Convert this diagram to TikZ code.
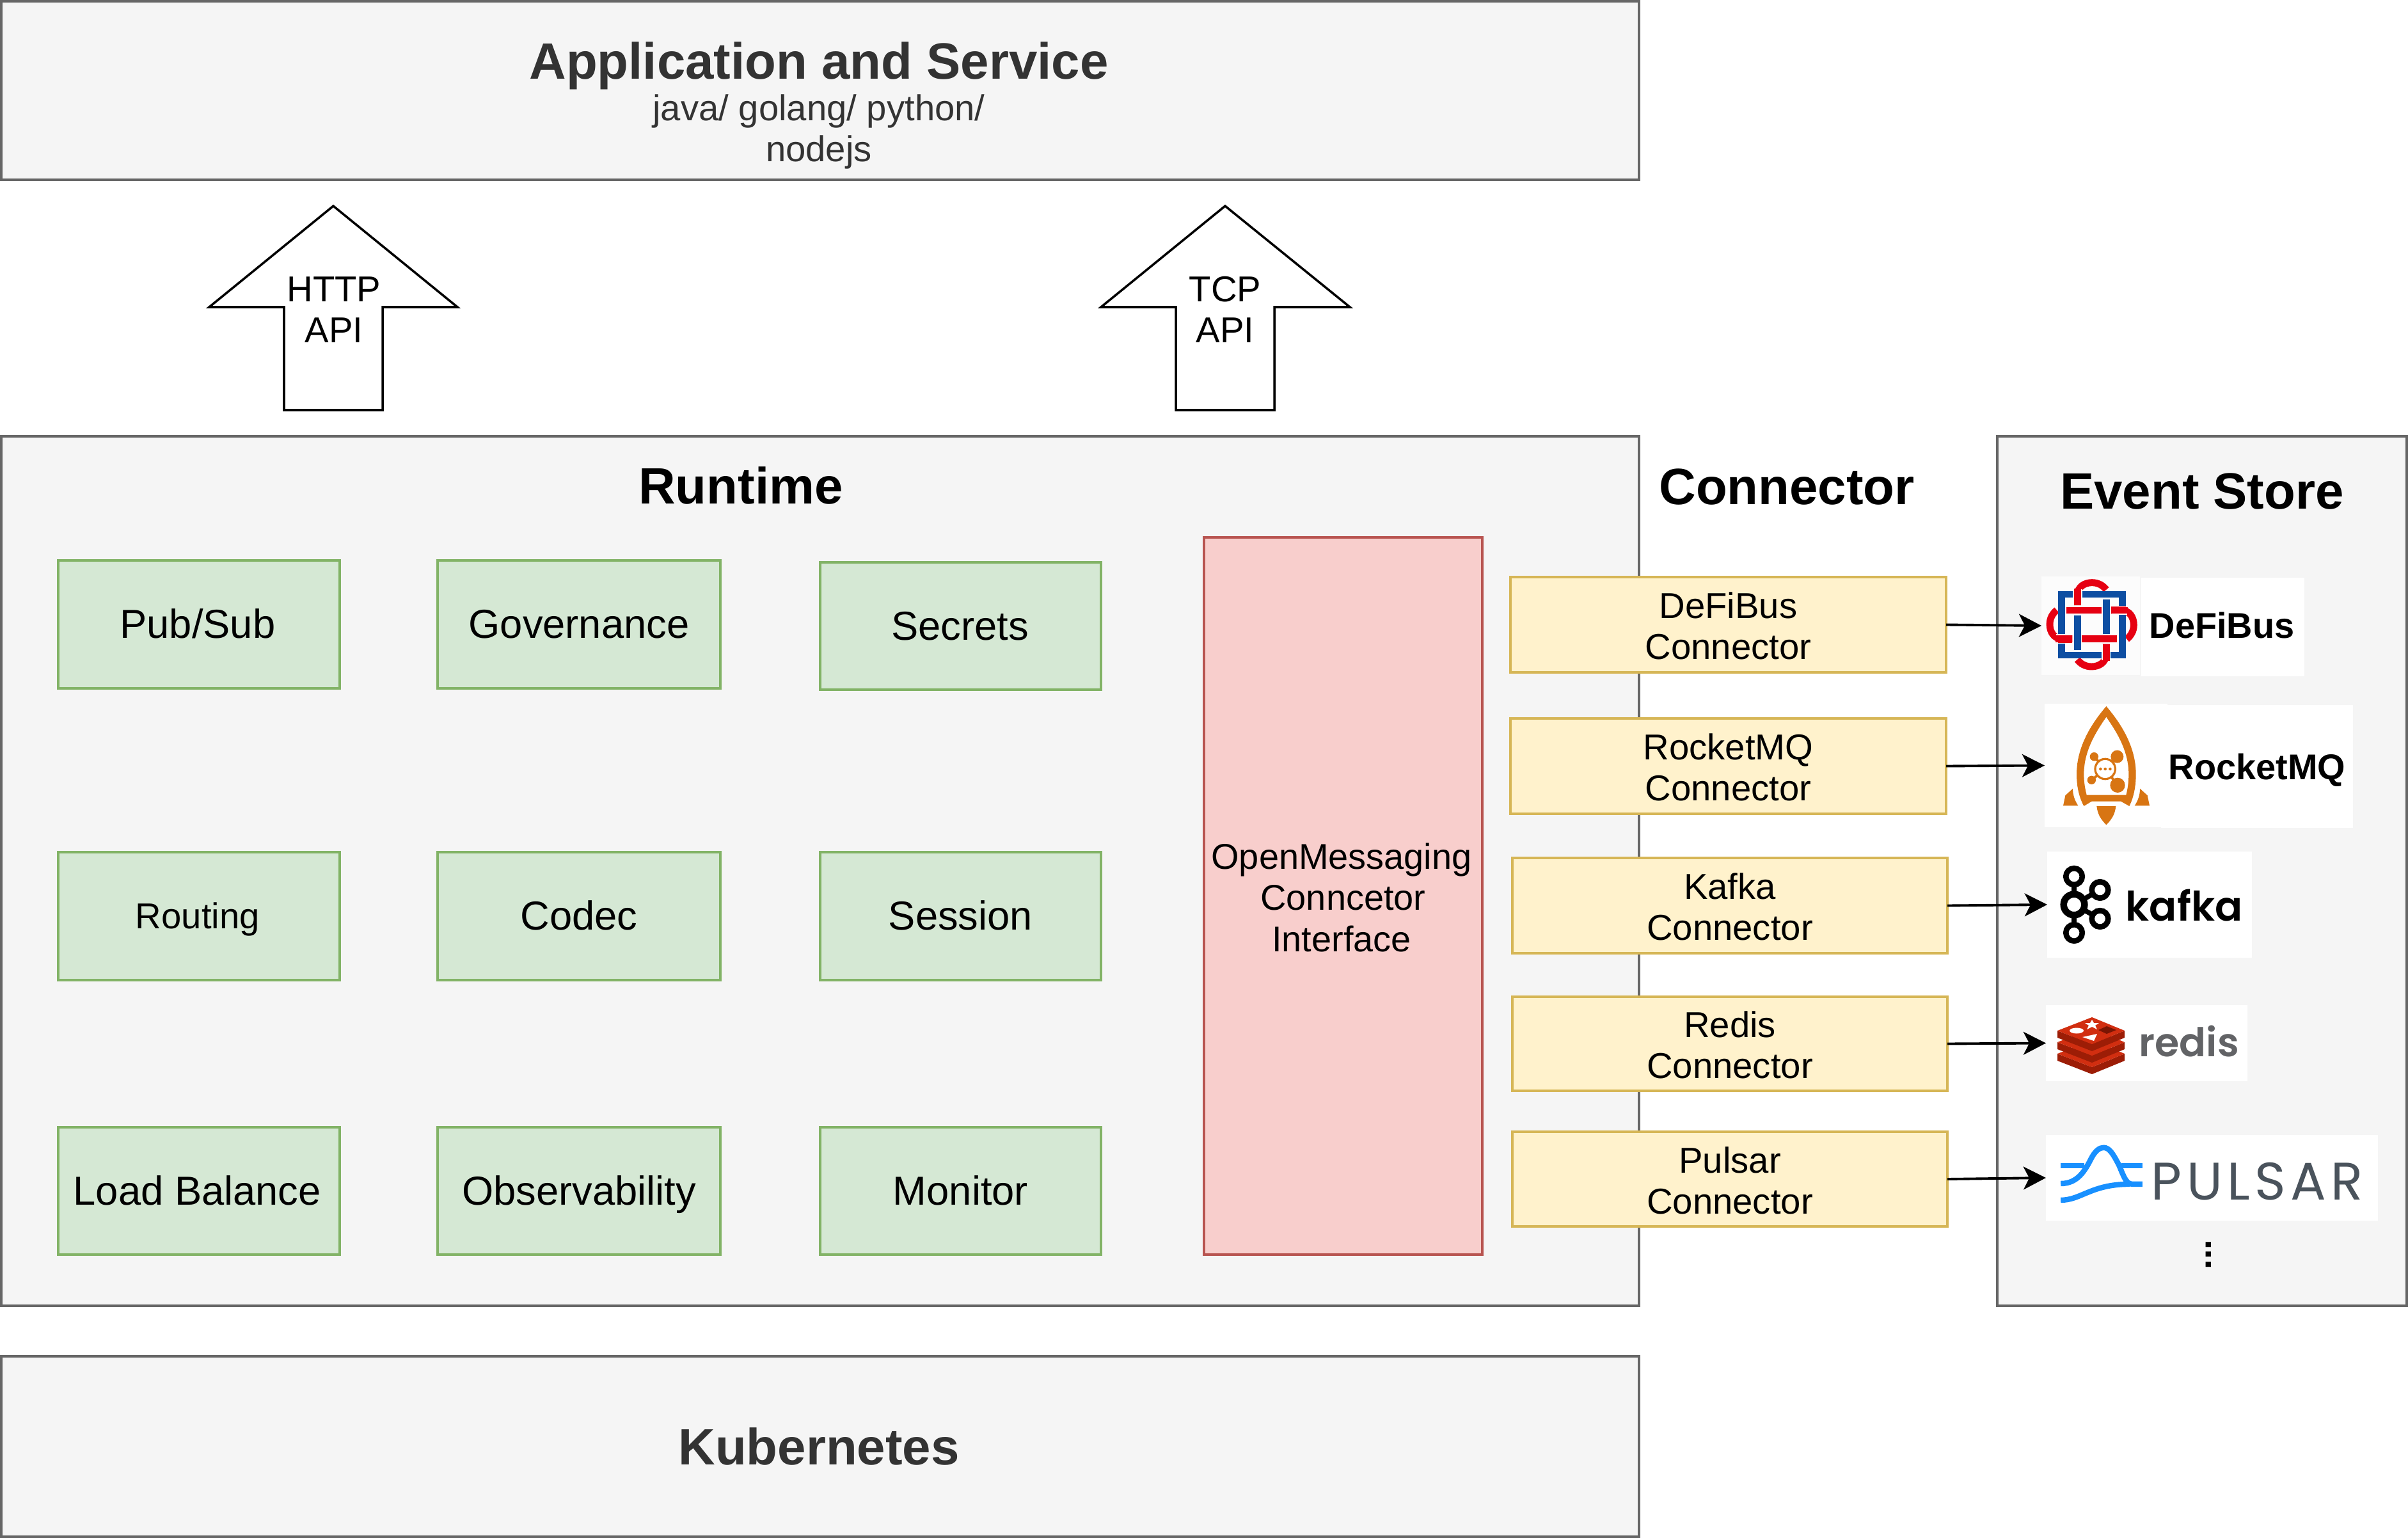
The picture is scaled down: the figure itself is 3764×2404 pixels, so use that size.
\documentclass[tikz,border=0pt]{standalone}
\usepackage{fontspec}
\setmainfont{Liberation Sans}
\newfontfamily\popsemi{Poppins SemiBold}
\newfontfamily\pulsarfont{Poppins}[LetterSpace=9]
\usetikzlibrary{arrows.meta}
\definecolor{grayfill}{HTML}{F5F5F5}
\definecolor{grayline}{HTML}{666666}
\definecolor{titlegray}{HTML}{333333}
\definecolor{greenfill}{HTML}{D5E8D4}
\definecolor{greenline}{HTML}{82B366}
\definecolor{redfill}{HTML}{F8CECC}
\definecolor{redline}{HTML}{B85450}
\definecolor{yellowfill}{HTML}{FFF2CC}
\definecolor{yellowline}{HTML}{D6B656}
\definecolor{defired}{HTML}{E60012}
\definecolor{defiblue}{HTML}{0D4EA2}
\definecolor{defibg}{HTML}{FCFCFC}
\definecolor{rocketor}{HTML}{D87513}
\definecolor{redisred}{HTML}{D12E10}
\definecolor{redisdark}{HTML}{9C1D06}
\definecolor{redisdeep}{HTML}{7A1503}
\definecolor{redistext}{HTML}{626366}
\definecolor{pulsarblue}{HTML}{1890FF}
\definecolor{pulsartext}{HTML}{4A535C}
\newcommand{\bx}[7]{\node[#6,inner sep=0pt,outer sep=0pt,align=center,
  minimum width={(#4-#2)*0.01cm},minimum height={(#5-#3)*0.01cm}] (#1) at ({(#2+#4)/2},{(#3+#5)/2}) {#7};}
\newcommand{\vs}{\rule[-.21em]{0pt}{1.11em}}
\newcommand{\fl}{\rule{0pt}{12.8pt}}
\tikzset{
  panel/.style={draw=grayline,fill=grayfill,line width=1pt},
  svc/.style={draw=greenline,fill=greenfill,line width=1pt,font=\fontsize{18}{21}\selectfont},
  iface/.style={draw=redline,fill=redfill,line width=1pt,font=\fontsize{15.9}{18.4}\selectfont},
  conbox/.style={draw=yellowline,fill=yellowfill,line width=1pt,font=\fontsize{16}{18.2}\selectfont},
  logobg/.style={fill=white},
  bigtitle/.style={font=\bfseries\fontsize{22.7}{26}\selectfont,inner sep=0pt},
  subtitle/.style={font=\fontsize{16}{18.2}\selectfont,text=titlegray,inner sep=0pt},
  uparrow/.style={draw=black,fill=white,line width=1pt,line join=miter},
  arrowlabel/.style={font=\fontsize{16}{18.2}\selectfont,align=center,inner sep=0pt},
  flow/.style={draw=black,line width=1.1pt,-{Stealth[length=10pt,width=10.2pt,inset=2.6pt]}},
  logotext/.style={font=\bfseries\fontsize{15.9}{18}\selectfont,inner sep=0pt,anchor=base west},
}
\begin{document}
\begin{tikzpicture}[x=0.01cm,y=-0.01cm]
\useasboundingbox (0,0) rectangle (3764,2404);
% panels
\bx{app}{2}{2}{2562}{281}{panel}{}
\bx{runtime}{2}{682}{2562}{2041}{panel}{}
\bx{store}{3122}{682}{3762}{2041}{panel}{}
\bx{kube}{2}{2120}{2562}{2402}{panel}{}
\node[bigtitle,text=titlegray] (apptitle) at (1280,103) {Application and Service};
\node[subtitle] (appsub1) at (1280,174) {java/ golang/ python/};
\node[subtitle] (appsub2) at (1280,238) {nodejs};
\node[bigtitle,text=titlegray] (kubetitle) at (1280,2261) {Kubernetes};
\node[bigtitle] (runtimetitle) at (1158,759) {Runtime};
\node[bigtitle] (connectortitle) at (2793,761) {Connector};
\node[bigtitle] (storetitle) at (3442,768) {Event Store};
% up arrows
\draw[uparrow] (521,322) -- (715,480) -- (598,480) -- (598,641) -- (444,641) -- (444,480) -- (327,480) -- cycle;
\node[arrowlabel] (httplabel) at (522,484) {HTTP\\API};
\draw[uparrow] (1915,322) -- (2110,480) -- (1992,480) -- (1992,641) -- (1838,641) -- (1838,480) -- (1721,480) -- cycle;
\node[arrowlabel] (tcplabel) at (1915,484) {TCP\\API};
% services
\bx{pubsub}{91}{876}{531}{1076}{svc}{\vs Pub/Sub\hspace{1.2pt}}
\bx{gov}{684}{876}{1126}{1076}{svc}{\vs Governance}
\bx{secrets}{1282}{879}{1721}{1078}{svc}{\vs Secrets\hspace{.6pt}}
\bx{routing}{91}{1332}{531}{1532}{svc,font=\fontsize{16}{19}\selectfont}{\vs Routing\hspace{1.2pt}}
\bx{codec}{684}{1332}{1126}{1532}{svc}{\vs Codec}
\bx{session}{1282}{1332}{1721}{1532}{svc}{\vs Session}
\bx{load}{91}{1762}{531}{1961}{svc}{\vs Load Balance\hspace{1.5pt}}
\bx{observ}{684}{1762}{1126}{1961}{svc}{\vs Observability}
\bx{monitor}{1282}{1762}{1721}{1961}{svc}{\vs Monitor}
\bx{omi}{1882}{840}{2317}{1961}{iface}{\fl OpenMessaging\hspace*{1.4pt}\\Conncetor\hspace*{6.2pt}\\Interface\hspace*{1.4pt}}
% connector boxes
\bx{cdefi}{2361}{902}{3042}{1051}{conbox}{\fl DeFiBus\\Connector}
\bx{crocket}{2361}{1123}{3042}{1272}{conbox}{\fl RocketMQ\\Connector}
\bx{ckafka}{2364}{1341}{3044}{1490}{conbox}{\fl Kafka\\Connector}
\bx{credis}{2364}{1558}{3044}{1705}{conbox}{\fl Redis\\Connector}
\bx{cpulsar}{2364}{1769}{3044}{1917}{conbox}{\fl Pulsar\\Connector}
% logo backgrounds
\bx{ldefi}{3191}{901}{3345}{1055}{fill=defibg}{}
\bx{ldefitext}{3347}{903}{3602}{1057}{logobg}{}
\bx{lrocket}{3196}{1100}{3388}{1293}{logobg}{}
\bx{lrockettext}{3378}{1102}{3678}{1294}{logobg}{}
\bx{lkafka}{3200}{1331}{3520}{1497}{logobg}{}
\bx{lredis}{3198}{1571}{3513}{1690}{logobg}{}
\bx{lpulsar}{3198}{1774}{3717}{1908}{logobg}{}
% connectors
\draw[flow] (cdefi.east) -- (ldefi.west);
\draw[flow] (crocket.east) -- (lrocket.west);
\draw[flow] (ckafka.east) -- (lkafka.west);
\draw[flow] (credis.east) -- (lredis.west);
\draw[flow] (cpulsar.east) -- (lpulsar.west);
% DeFiBus logo
\begin{scope}[shift={(3170,880)},x=0.01cm/3,y=-0.01cm/3,line width=3.1pt]
\foreach \a in {0,-90,180,90}{
  \draw[defired,rotate around={\a:(299,289)}] (232,198) -- (232,150) .. controls (232,112) and (265,92) .. (300,92) .. controls (330,92) and (352,106) .. (367,125);
}
\draw[defiblue] (157,147) rectangle (442,432);
\foreach \a in {0,-90,180,90}{
  \draw[defibg,line width=4.2pt,rotate around={\a:(299,289)}] (232,196) -- (232,122);
  \draw[defired,rotate around={\a:(299,289)}] (232,198) -- (232,120);
}
\foreach \a in {0,180}{
  \draw[defired,rotate around={\a:(299,289)}] (180,222) -- (345,222);
  \draw[defiblue,rotate around={\a:(299,289)}] (232,245) -- (232,408);
}
\foreach \a in {0,180}{
  \draw[defired,rotate around={\a:(299,289)}] (140,358) -- (208,358);
}
\end{scope}
\node[logotext] (defitext) at (3359,998) {DeFiBus};
% RocketMQ logo
\begin{scope}[shift={(3170,880)},x=0.01cm/3,y=-0.01cm/3]
\fill[rocketor,even odd rule] (367,672) .. controls (300,750) and (228,860) .. (228,990) .. controls (228,1050) and (240,1100) .. (262,1140) -- (298,1118) -- (436,1118) -- (475,1140) .. controls (495,1100) and (506,1050) .. (506,990) .. controls (506,860) and (434,750) .. (367,672) -- cycle
 (367,722) .. controls (320,790) and (262,880) .. (262,990) .. controls (262,1030) and (268,1060) .. (275,1088) -- (460,1088) .. controls (467,1060) and (472,1030) .. (472,990) .. controls (472,880) and (414,790) .. (367,722) -- cycle;
\fill[rocketor] (165,1138) -- (175,1090) -- (210,1058) .. controls (210,1090) and (220,1115) .. (235,1138) -- cycle;
\fill[rocketor] (570,1138) -- (560,1090) -- (525,1058) .. controls (525,1090) and (515,1115) .. (500,1138) -- cycle;
\fill[rocketor] (322,1140) -- (412,1140) .. controls (408,1180) and (390,1205) .. (367,1228) .. controls (344,1205) and (326,1180) .. (322,1140) -- cycle;
\draw[rocketor,line width=1.1pt] (362,966) -- (310,908) (362,966) -- (418,908) (362,966) -- (298,1018) (362,966) -- (420,1042);
\fill[rocketor] (310,908) circle[radius=20] (418,908) circle[radius=30] (298,1018) circle[radius=20] (420,1042) circle[radius=35] (362,966) circle[radius=52];
\fill[white] (362,966) circle[radius=42];
\fill[rocketor] (340,966) circle[radius=7] (362,966) circle[radius=7] (385,966) circle[radius=7];
\end{scope}
\node[logotext] (rockettext) at (3389,1218) {RocketMQ};
% Kafka logo
\draw[black,line width=2.2pt] (3242,1370) -- (3242,1458) (3242,1414) -- (3282.5,1391) (3242,1414) -- (3282.5,1436);
\foreach \px/\py/\r/\w in {3242/1370/12.8/2.45,3282.5/1391/12.8/2.45,3282.5/1436/12.8/2.45,3242/1458/12.8/2.45,3242/1414/16.3/3}{
  \draw[black,fill=white,line width=\w pt] (\px,\py) circle[radius=\r];
}
\node[inner sep=0pt,anchor=base west,font=\popsemi\fontsize{18.1}{20}\selectfont] (kafkatext) at (3322,1439) {kafka};
% Redis logo
\foreach \d in {36,18,0}{
  \fill[redisdark] (3216,1611+\d) -- (3270,1632+\d) -- (3321,1611+\d) -- (3321,1622+\d) -- (3270,1643+\d) -- (3216,1622+\d) -- cycle;
  \fill[redisred] (3216,1611+\d) -- (3270,1590+\d) -- (3321,1611+\d) -- (3270,1632+\d) -- cycle;
}
\fill[white] (3246,1611) ellipse[x radius=11,y radius=4.5];
\fill[white] (3270,1594) -- (3273,1599) -- (3281,1599) -- (3275,1603) -- (3278,1609) -- (3270,1605) -- (3262,1609) -- (3265,1603) -- (3259,1599) -- (3267,1599) -- cycle;
\fill[white] (3255,1621) -- (3278,1616) -- (3273,1627) -- cycle;
\fill[redisdeep] (3280,1610) -- (3293,1604) -- (3308,1610) -- (3293,1616) -- cycle;
\node[inner sep=0pt,anchor=base west,text=redistext,font=\popsemi\fontsize{17.6}{20}\selectfont] (redistxt) at (3343,1651) {redis};
% Pulsar logo
\begin{scope}[shift={(3170,1310)},x=0.01cm/2.64,y=-0.01cm/2.24,line width=2.4pt,pulsarblue]
\draw (135,1147) -- (232,1147);
\draw (385,1147) -- (472,1147);
\draw (135,1210) .. controls (205,1210) and (235,1165) .. (262,1120) .. controls (278,1095) and (295,1084) .. (312,1084) .. controls (335,1084) and (350,1105) .. (372,1140) .. controls (390,1170) and (400,1212) .. (430,1212) -- (472,1212);
\draw (135,1268) .. controls (220,1268) and (260,1212) .. (420,1212);
\end{scope}
\node[inner sep=0pt,anchor=base west,text=pulsartext,font=\pulsarfont\fontsize{23.5}{25}\selectfont] (pulsartxt) at (3362,1875) {PULSAR};
\node[rotate=90,inner sep=0pt,font=\bfseries\fontsize{16}{18}\selectfont] (moredots) at (3452.6,1961) {...};
\end{tikzpicture}
\end{document}
